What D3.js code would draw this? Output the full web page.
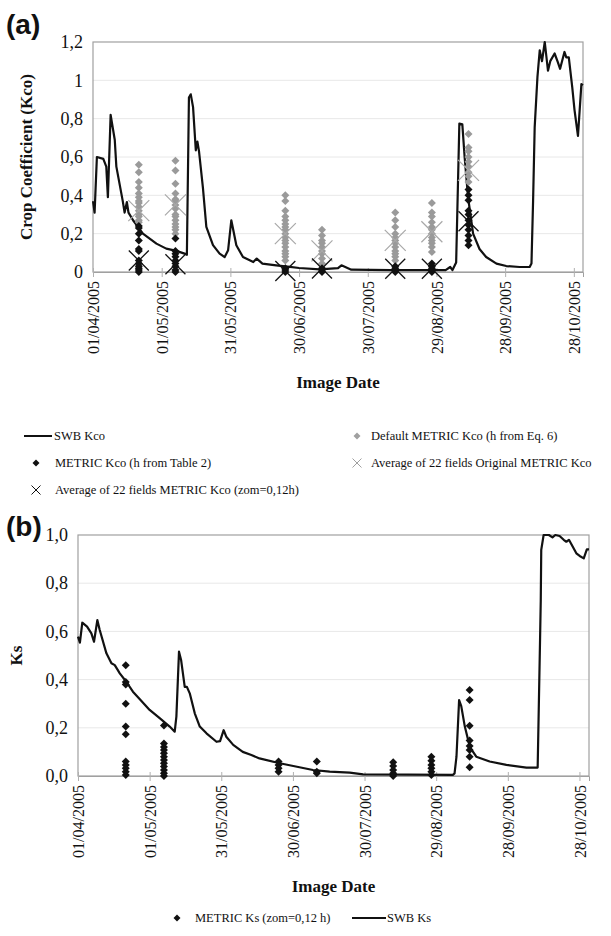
<!DOCTYPE html>
<html>
<head>
<meta charset="utf-8">
<script src="https://cdn.jsdelivr.net/npm/d3@7/dist/d3.min.js"></script>
<style>
    body { margin: 0; background: #fff; }
</style>
</head>
<body>
<svg id="chart" width="611" height="936"></svg>
<script>
// ---- data ----
let startDate = new Date(2005, 3, 1);
let endDate = new Date(2005, 10, 1);
let tickLabels = ["01/04/2005", "01/05/2005", "31/05/2005", "30/06/2005",
                  "30/07/2005", "29/08/2005", "28/09/2005", "28/10/2005"];
// image dates as days after 01/04/2005
let imageDays = [20, 36, 84, 100, 132, 148, 164];

// SWB Kco (day, value)
let kcoDay = [0, 0.7, 1.7, 4.5, 5.8, 6.5, 7.7, 9.5, 10.2, 13, 13.8, 14.8, 15.5, 17.5, 21.8, 27.7, 32, 36.4, 40, 41,
    41.9, 42.7, 43.7, 44.9, 45.6, 46.3, 48, 49.5, 52.4, 55.3, 57.5, 59, 60.4, 61, 62.6, 65.5, 70, 71.5, 74, 80,
    86, 90, 99, 107, 108.5, 112.8, 130, 154, 156, 157, 158.6, 160, 161.3, 162.3, 163.8, 166, 168.8, 171.7, 176.2, 180.5,
    186.3, 190.7, 191.5, 192.2, 192.9, 194.1, 195.1, 196.1, 197.3, 198.7, 199.7, 201.6, 203, 204, 205.9, 206.7, 207.8, 209.3,
    210.3, 211.8, 213.3, 214];
let kcoVal = [0.37, 0.31, 0.60, 0.59, 0.55, 0.39, 0.82, 0.69, 0.55, 0.37, 0.31, 0.365, 0.31, 0.27, 0.20, 0.148, 0.122, 0.11, 0.096, 0.09,
    0.91, 0.927, 0.86, 0.635, 0.68, 0.63, 0.44, 0.235, 0.14, 0.096, 0.078, 0.113, 0.27, 0.235, 0.14, 0.078, 0.052, 0.07, 0.044, 0.035,
    0.027, 0.021, 0.014, 0.02, 0.035, 0.012, 0.01, 0.01, 0.026, 0.01, 0.05, 0.774, 0.77, 0.60, 0.39, 0.20, 0.12, 0.078, 0.044, 0.031,
    0.026, 0.026, 0.044, 0.37, 0.756, 1.017, 1.157, 1.10, 1.20, 1.05, 1.10, 1.14, 1.095, 1.06, 1.148, 1.12, 1.12, 0.965,
    0.845, 0.71, 0.98, 0.975];

// Default METRIC Kco (h from Eq. 6), one list per image
let defaultKco = [
    [0.56, 0.52, 0.47, 0.44, 0.41, 0.39, 0.37, 0.36, 0.34, 0.32, 0.30, 0.29, 0.27, 0.26],
    [0.58, 0.53, 0.46, 0.41, 0.38, 0.37, 0.35, 0.33, 0.30, 0.29, 0.27, 0.25, 0.235, 0.22, 0.20],
    [0.40, 0.37, 0.32, 0.29, 0.27, 0.25, 0.235, 0.22, 0.20, 0.18, 0.165, 0.15, 0.13, 0.11, 0.095, 0.08, 0.06],
    [0.22, 0.19, 0.165, 0.15, 0.13, 0.11, 0.095, 0.07, 0.045],
    [0.31, 0.27, 0.235, 0.20, 0.18, 0.165, 0.15, 0.13, 0.11, 0.095, 0.08, 0.06],
    [0.36, 0.31, 0.29, 0.26, 0.235, 0.22, 0.20, 0.18, 0.165, 0.15, 0.13, 0.105],
    [0.72, 0.65, 0.63, 0.60, 0.575, 0.55, 0.52, 0.50, 0.47]
];
// METRIC Kco (h from Table 2)
let metricKco = [
    [0.24, 0.23, 0.20, 0.165, 0.12, 0.11, 0.06, 0.045, 0.03, 0.02, 0.01, 0.0],
    [0.175, 0.11, 0.095, 0.08, 0.06, 0.045, 0.03, 0.01, 0.0],
    [0.02, 0.01, 0.0],
    [0.02, 0.01, 0.0],
    [0.03, 0.02, 0.01, 0.0],
    [0.045, 0.03, 0.02, 0.01, 0.0],
    [0.43, 0.40, 0.375, 0.32, 0.30, 0.27, 0.245, 0.22, 0.19, 0.165, 0.14]
];
let avgOriginalKco = [0.32, 0.35, 0.20, 0.11, 0.165, 0.21, 0.53];
let avgMetricKco = [0.06, 0.04, 0.005, 0.018, 0.017, 0.017, 0.265];

// SWB Ks (day, value)
let ksDay = [0, 0.8, 1.8, 3.8, 5.6, 6.7, 8.1, 9.1, 11.9, 14, 15.4, 17.5, 20.3, 23, 25.8, 30, 34.2, 38.4, 40.5, 41.2,
    42.3, 43.2, 44.7, 45.6, 46.8, 48.9, 51, 53.8, 58, 59.5, 61, 62.1, 65, 69, 72.6, 76, 84.5, 98.4, 105.4, 113.8,
    119.4, 157, 157.7, 158.5, 159.6, 160.5, 162, 164.1, 166.8, 172.4, 179.4, 187.8, 192.5, 193.5, 193.8, 194, 195, 197.2, 198.7, 199.9,
    201.7, 203.4, 204.5, 205.6, 208.7, 210.1, 211.8, 213.1, 214];
let ksVal = [0.578, 0.553, 0.636, 0.62, 0.592, 0.557, 0.647, 0.606, 0.509, 0.468, 0.46, 0.426, 0.39, 0.35, 0.32, 0.274, 0.24, 0.205, 0.184, 0.246,
    0.516, 0.48, 0.37, 0.37, 0.343, 0.26, 0.205, 0.177, 0.142, 0.145, 0.19, 0.163, 0.129, 0.10, 0.087, 0.073, 0.053, 0.025, 0.018, 0.014,
    0.007, 0.005, 0.011, 0.08, 0.315, 0.29, 0.205, 0.12, 0.08, 0.06, 0.046, 0.035, 0.035, 0.564, 0.73, 0.938, 1.0, 1.0, 0.99, 1.0,
    0.996, 0.98, 0.972, 0.98, 0.924, 0.913, 0.903, 0.94, 0.94];

// METRIC Ks (zom=0,12 h)
let metricKs = [
    [0.46, 0.39, 0.38, 0.30, 0.205, 0.173, 0.06, 0.046, 0.032, 0.018, 0.004],
    [0.21, 0.135, 0.12, 0.108, 0.094, 0.08, 0.066, 0.053, 0.039, 0.025, 0.011, 0.0],
    [0.06, 0.046, 0.032, 0.018],
    [0.06, 0.018, 0.011],
    [0.057, 0.041, 0.025, 0.011, 0.0],
    [0.08, 0.063, 0.046, 0.032, 0.018, 0.004],
    [0.357, 0.315, 0.209, 0.147, 0.124, 0.108, 0.08, 0.036]
];

let yTicksA = [0, 0.2, 0.4, 0.6, 0.8, 1, 1.2];
let yLabelsA = ["0", "0,2", "0,4", "0,6", "0,8", "1", "1,2"];
let yTicksB = [0, 0.2, 0.4, 0.6, 0.8, 1.0];
let yLabelsB = ["0,0", "0,2", "0,4", "0,6", "0,8", "1,0"];

// ---- helpers ----
let SERIF = "'Liberation Serif', 'DejaVu Serif', serif";
let SANS = "'Liberation Sans', Arial, sans-serif";
let svg = d3.select("#chart");
let dayToDate = d => new Date(startDate.getTime() + d * 864e5);
let tickDates = tickLabels.map((t, i) => d3.timeDay.offset(startDate, 30 * i));

function diamond(r) {
    return "M0," + (-r) + "L" + r + ",0L0," + r + "L" + (-r) + ",0Z";
}
function cross(r) {
    return "M" + (-r) + "," + (-r) + "L" + r + "," + r + "M" + (-r) + "," + r + "L" + r + "," + (-r);
}
function txt(sel, size, bold) {
    return sel.style("font-family", SERIF).style("font-size", size + "px")
        .style("font-weight", bold ? "bold" : "normal").style("fill", "#111");
}

function panel(box, yMax, yTicks, yLabels, yTitle, yTitleX) {
    let x = d3.scaleTime().domain([startDate, endDate]).range([box.left, box.right]);
    let y = d3.scaleLinear().domain([0, yMax]).range([box.bottom, box.top]);

    // gridlines
    svg.append("g").selectAll("line")
        .data(yTicks.filter(t => t > 0 && t < yMax))
        .enter().append("line")
        .attr("x1", box.left).attr("x2", box.right)
        .attr("y1", d => y(d)).attr("y2", d => y(d))
        .attr("stroke", "#e8e8e8").attr("stroke-width", 1);

    svg.append("rect")
        .attr("x", box.left).attr("y", box.top)
        .attr("width", box.right - box.left).attr("height", box.bottom - box.top)
        .attr("fill", "none").attr("stroke", "#a0a0a0").attr("stroke-width", 1.2);

    // y axis
    let yAxis = svg.append("g").attr("transform", "translate(" + box.left + ",0)")
        .call(d3.axisLeft(y).tickValues(yTicks).tickSize(0).tickPadding(10)
            .tickFormat((d, i) => yLabels[i]));
    yAxis.select(".domain").remove();
    txt(yAxis.selectAll("text"), 18, false);

    // x axis
    let xAxis = svg.append("g").attr("transform", "translate(0," + box.bottom + ")")
        .call(d3.axisBottom(x).tickValues(tickDates).tickSize(5)
            .tickFormat((d, i) => tickLabels[i]));
    xAxis.select(".domain").attr("stroke", "#a0a0a0");
    xAxis.selectAll(".tick line").attr("stroke", "#b0b0b0").attr("y1", -4);
    txt(xAxis.selectAll("text"), 16, false)
        .attr("transform", "rotate(-90)")
        .attr("x", -9).attr("y", 0).attr("dy", "0.35em")
        .style("text-anchor", "end");

    txt(svg.append("text"), 17, true)
        .attr("x", (box.left + box.right) / 2).attr("y", box.bottom + 116)
        .attr("text-anchor", "middle")
        .text("Image Date");

    txt(svg.append("text"), 17, true)
        .attr("transform", "translate(" + yTitleX + "," + (box.top + box.bottom) / 2 + ") rotate(-90)")
        .attr("text-anchor", "middle")
        .text(yTitle);

    return {x: x, y: y};
}

function points(sc, lists, colour, r) {
    let flat = [];
    lists.forEach((l, i) => l.forEach(v => flat.push({d: imageDays[i], v: v})));
    svg.append("g").selectAll("path")
        .data(flat).enter().append("path")
        .attr("d", diamond(r))
        .attr("transform", p => "translate(" + sc.x(dayToDate(p.d)) + "," + sc.y(p.v) + ")")
        .attr("fill", colour);
}

function crosses(sc, vals, colour, r, w) {
    svg.append("g").selectAll("path")
        .data(vals).enter().append("path")
        .attr("d", cross(r))
        .attr("transform", (v, i) => "translate(" + sc.x(dayToDate(imageDays[i])) + "," + sc.y(v) + ")")
        .attr("stroke", colour).attr("stroke-width", w).attr("fill", "none");
}

function swbLine(sc, days, vals) {
    let line = d3.line()
        .x((d, i) => sc.x(dayToDate(days[i])))
        .y(d => sc.y(d));
    svg.append("path").datum(vals)
        .attr("d", line)
        .attr("fill", "none").attr("stroke", "#111").attr("stroke-width", 2.2)
        .attr("stroke-linejoin", "round");
}

// ---- panel (a) ----
let a = panel({left: 93, right: 583, top: 42, bottom: 272}, 1.2, yTicksA, yLabelsA,
    "Crop Coefficient (Kco)", 32);
swbLine(a, kcoDay, kcoVal);
points(a, defaultKco, "#9a9a9a", 4);
crosses(a, avgOriginalKco, "#a8a8a8", 10.5, 1.2);
points(a, metricKco, "#111", 4);
crosses(a, avgMetricKco, "#111", 10, 1.3);

svg.append("text").attr("x", 6).attr("y", 34)
    .style("font-family", SANS).style("fill", "#111")
    .style("font-size", "28px").style("font-weight", "bold").text("(a)");

// legend (a)
let lgA = svg.append("g");
lgA.append("line").attr("x1", 24).attr("x2", 52).attr("y1", 436).attr("y2", 436)
    .attr("stroke", "#111").attr("stroke-width", 2);
txt(lgA.append("text"), 12.5).attr("x", 54).attr("y", 440).text("SWB Kco");
lgA.append("path").attr("d", diamond(3.5)).attr("transform", "translate(36,463)").attr("fill", "#111");
txt(lgA.append("text"), 12.5).attr("x", 55).attr("y", 467).text("METRIC Kco (h from Table 2)");
lgA.append("path").attr("d", cross(4.5)).attr("transform", "translate(36,490)")
    .attr("stroke", "#111").attr("stroke-width", 1).attr("fill", "none");
txt(lgA.append("text"), 12.5).attr("x", 55).attr("y", 494).text("Average of 22 fields METRIC Kco (zom=0,12h)");
lgA.append("path").attr("d", diamond(3.5)).attr("transform", "translate(357,436)").attr("fill", "#a0a0a0");
txt(lgA.append("text"), 12.5).attr("x", 371).attr("y", 440).text("Default METRIC Kco (h from Eq. 6)");
lgA.append("path").attr("d", cross(4.5)).attr("transform", "translate(357,463)")
    .attr("stroke", "#a0a0a0").attr("stroke-width", 1).attr("fill", "none");
txt(lgA.append("text"), 12.5).attr("x", 371).attr("y", 467).text("Average of 22 fields Original METRIC Kco");

// ---- panel (b) ----
let b = panel({left: 78, right: 589, top: 535, bottom: 776}, 1.0, yTicksB, yLabelsB, "Ks", 22);
swbLine(b, ksDay, ksVal);
points(b, metricKs, "#111", 4);

svg.append("text").attr("x", 6).attr("y", 536)
    .style("font-family", SANS).style("fill", "#111")
    .style("font-size", "28px").style("font-weight", "bold").text("(b)");

let lgB = svg.append("g");
lgB.append("path").attr("d", diamond(3.5)).attr("transform", "translate(177,918)").attr("fill", "#111");
txt(lgB.append("text"), 12.5).attr("x", 195).attr("y", 922).text("METRIC Ks (zom=0,12 h)");
lgB.append("line").attr("x1", 352).attr("x2", 386).attr("y1", 918).attr("y2", 918)
    .attr("stroke", "#111").attr("stroke-width", 2);
txt(lgB.append("text"), 12.5).attr("x", 387).attr("y", 922).text("SWB Ks");
</script>
</body>
</html>
